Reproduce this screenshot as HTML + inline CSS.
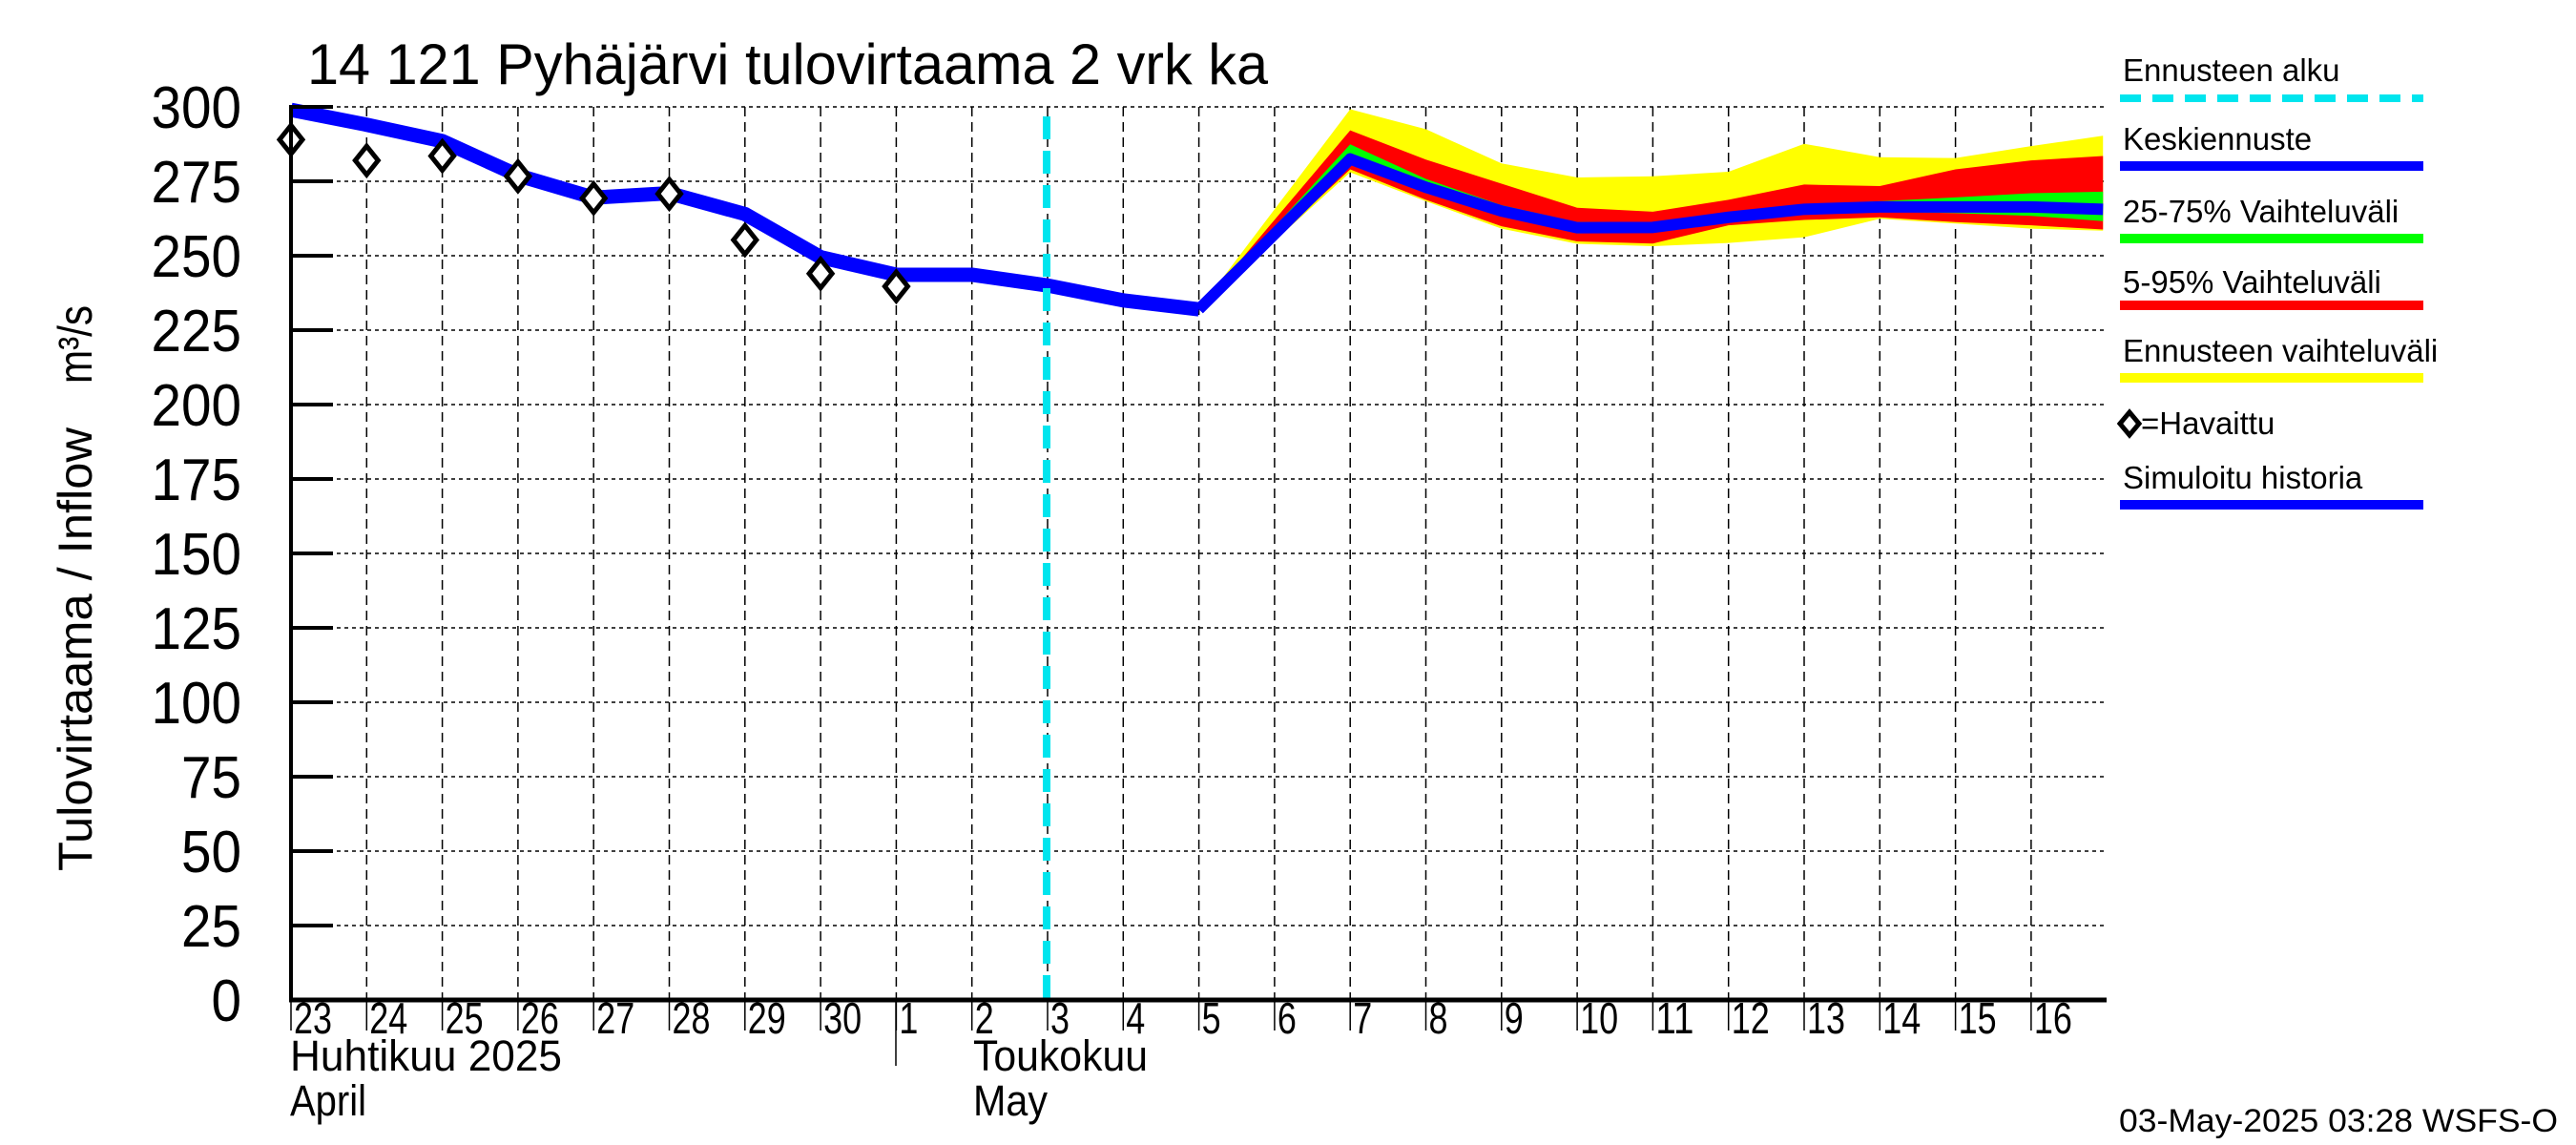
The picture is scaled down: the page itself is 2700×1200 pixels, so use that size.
<!DOCTYPE html>
<html><head><meta charset="utf-8"><style>
html,body{margin:0;padding:0;background:#fff;}
svg{display:block;font-family:"Liberation Sans",sans-serif;}
</style></head><body>
<svg id="chart" width="2700" height="1200" viewBox="0 0 2700 1200" xmlns="http://www.w3.org/2000/svg">
<rect width="2700" height="1200" fill="#fff"/>
<g id="grid"></g>
<g id="bands"></g>
<g id="lines"></g>
<g id="axes"></g>
<text x="322" y="88" font-size="60" textLength="1007" lengthAdjust="spacingAndGlyphs">14 121 Pyhäjärvi tulovirtaama 2 vrk ka</text>
<text transform="translate(96,913) rotate(-90)" font-size="50" textLength="465" lengthAdjust="spacingAndGlyphs">Tulovirtaama / Inflow</text>
<text transform="translate(96,402) rotate(-90)" font-size="50" textLength="82" lengthAdjust="spacingAndGlyphs">m³/s</text>
<text x="304" y="1122" font-size="45" textLength="285" lengthAdjust="spacingAndGlyphs">Huhtikuu  2025</text>
<text x="304" y="1169" font-size="45" textLength="80" lengthAdjust="spacingAndGlyphs">April</text>
<text x="1020" y="1122" font-size="45" textLength="183" lengthAdjust="spacingAndGlyphs">Toukokuu</text>
<text x="1020" y="1169" font-size="45" textLength="78" lengthAdjust="spacingAndGlyphs">May</text>
<line x1="939" y1="1048" x2="939" y2="1117" stroke="#000" stroke-width="1.5"/>
<text x="2221" y="1186" font-size="34" textLength="460" lengthAdjust="spacingAndGlyphs">03-May-2025 03:28 WSFS-O</text>
<g font-size="33">
<text x="2225" y="85">Ennusteen alku</text>
<line x1="2222" y1="103" x2="2540" y2="103" stroke="#00e5ee" stroke-width="8" stroke-dasharray="22,12"/>
<text x="2225" y="157">Keskiennuste</text>
<line x1="2222" y1="174" x2="2540" y2="174" stroke="#0000ff" stroke-width="10"/>
<text x="2225" y="233">25-75% Vaihteluväli</text>
<line x1="2222" y1="250" x2="2540" y2="250" stroke="#00ff00" stroke-width="10"/>
<text x="2225" y="307">5-95% Vaihteluväli</text>
<line x1="2222" y1="320" x2="2540" y2="320" stroke="#ff0000" stroke-width="10"/>
<text x="2225" y="379">Ennusteen vaihteluväli</text>
<line x1="2222" y1="396" x2="2540" y2="396" stroke="#ffff00" stroke-width="10"/>
<path d="M2222,444 l10,-12 l10,12 l-10,12 z" fill="none" stroke="#000" stroke-width="5"/>
<text x="2244" y="455">=Havaittu</text>
<text x="2225" y="512">Simuloitu historia</text>
<line x1="2222" y1="529" x2="2540" y2="529" stroke="#0000ff" stroke-width="10"/>
</g>
</svg>
<script>
// Data (day index: 0 = 23 Apr)
const yTicks = [0,25,50,75,100,125,150,175,200,225,250,275,300];
const dayLabels = ["23","24","25","26","27","28","29","30","1","2","3","4","5","6","7","8","9","10","11","12","13","14","15","16"];
const histDays = [0,1,2,3,4,5,6,7,8,9,10,11,12];
const histValues = [299,294,288.5,277,269.5,271,264,249.5,243.6,243.6,240,235,232];
const obsDays = [0,1,2,3,4,5,6,7,8];
const obsValues = [289,282,283.5,276.7,269.3,270.8,255.3,244,239.7];
const fcDays = [12,14,15,16,17,18,19,20,21,22,23,23.95];
const yellowTop = [232,299.2,292.5,281,276.3,276.7,278.2,287.6,283.1,282.8,286.8,290.3];
const redTop    = [232,292.1,282.3,274.2,266.1,264.8,268.8,273.9,273.4,279,282,283.5];
const greenTop  = [232,287.4,275.8,267,261.3,261.3,264.7,267.2,268.3,269.6,271,271.5];
const median    = [232,282.5,273,265,259.4,259.5,262.9,265.6,266.4,266.4,266.4,265.6];
const greenBot  = [232,280.6,271,263.4,257.5,257.9,261.8,264,264.8,264.3,263.4,261.6];
const redBot    = [232,279,268.8,259.9,254.8,254.1,260.2,262,262.9,261.3,260.2,258.8];
const yellowBot = [232,278,268.3,259.1,254,253.2,254.3,256.2,262.4,260.8,259.1,258.4];
const forecastStartDay = 10;

const NS="http://www.w3.org/2000/svg";
const X0=305, DX=79.3, Y0=1048, SY=3.12, XEND=2208;
function x(d){return X0+d*DX;}
function y(v){return Y0-v*SY;}
function mk(tag,attrs,parent){const e=document.createElementNS(NS,tag);for(const k in attrs)e.setAttribute(k,attrs[k]);parent.appendChild(e);return e;}
const grid=document.getElementById('grid'),bands=document.getElementById('bands'),lines=document.getElementById('lines'),axes=document.getElementById('axes');

yTicks.forEach(v=>{
  if(v>0){const g=mk('line',{x1:X0,x2:XEND,y1:y(v),y2:y(v),stroke:'#000','stroke-width':1.5,'stroke-dasharray':'4,4'},grid);
  
  }
  const t=mk('line',{x1:X0,x2:X0+44,y1:y(v),y2:y(v),stroke:'#000','stroke-width':4},axes);
  
  
  const s=String(v);
  const l=mk('text',{x:253,y:y(v)+22,'text-anchor':'end','font-size':62,textLength:s.length*31.5,lengthAdjust:'spacingAndGlyphs'},axes);
  l.textContent=s;
  
  
});
dayLabels.forEach((s,i)=>{
  if(i>0){const g=mk('line',{x1:x(i),x2:x(i),y1:y(300),y2:Y0,stroke:'#000','stroke-width':1.5,'stroke-dasharray':'10,6'},grid);
  
  }
  const t=mk('line',{x1:x(i),x2:x(i),y1:Y0,y2:Y0+32,stroke:'#000','stroke-width':1.5},axes);
  
  
  const l=mk('text',{x:x(i)+3,y:1083,'font-size':46,textLength:s.length*20,lengthAdjust:'spacingAndGlyphs'},axes);
  l.textContent=s;
  
  
});
const ax=mk('line',{x1:X0,x2:X0,y1:y(300)-2,y2:Y0+2,stroke:'#000','stroke-width':4},axes);


const bx=mk('line',{x1:X0-2,x2:XEND,y1:Y0,y2:Y0,stroke:'#000','stroke-width':5},axes);



function band(top,bot,color,name){
  let d='M'+fcDays.map((dd,i)=>x(dd)+','+y(top[i])).join(' L');
  d+=' L'+fcDays.map((dd,i)=>i).reverse().map(i=>x(fcDays[i])+','+y(bot[i])).join(' L')+' Z';
  const p=mk('path',{d:d,fill:color},bands);
  
  
}
band(yellowTop,yellowBot,'#ffff00','forecast-range-band');
band(redTop,redBot,'#ff0000','band-5-95');
band(greenTop,greenBot,'#00ff00','band-25-75');

const hp=mk('polyline',{points:histDays.map((d,i)=>x(d)+','+y(histValues[i])).join(' '),fill:'none',stroke:'#0000ff','stroke-width':15,'stroke-linejoin':'round'},lines);


const mp=mk('polyline',{points:fcDays.map((d,i)=>x(d)+','+y(median[i])).join(' '),fill:'none',stroke:'#0000ff','stroke-width':12,'stroke-linejoin':'round'},lines);



const fl=mk('line',{x1:x(forecastStartDay)-1,x2:x(forecastStartDay)-1,y1:y(300)+10,y2:Y0,stroke:'#00e5ee','stroke-width':8,'stroke-dasharray':'24,12'},lines);



obsDays.forEach((d,i)=>{
  const cx=x(d),cy=y(obsValues[i]);
  const p=mk('path',{d:`M${cx},${cy-15} L${cx+12},${cy} L${cx},${cy+15} L${cx-12},${cy} Z`,fill:'#fff',stroke:'#000','stroke-width':5},lines);
  
  
});
</script>
</body></html>
